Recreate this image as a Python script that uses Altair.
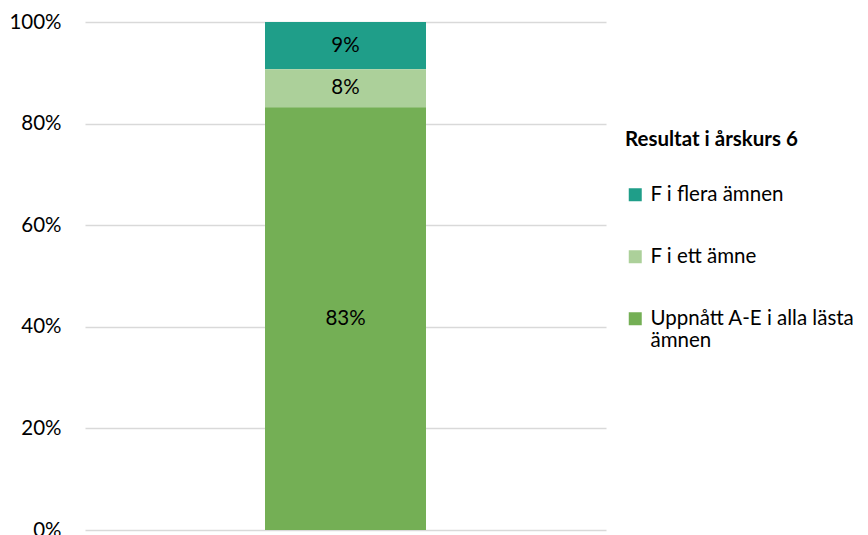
import altair as alt
import pandas as pd

categories = ["F i flera ämnen", "F i ett ämne", "Uppnått A-E i alla lästa ämnen"]
values = [9.3, 7.5, 83.2]
labels = ["9%", "8%", "83%"]
stack_order = [3, 2, 1]
colors = ["#1f9e89", "#acd09a", "#74af55"]

df = pd.DataFrame({
    "grupp": ["Åk 6"] * 3,
    "kategori": categories,
    "andel": values,
    "etikett": labels,
    "ordning": stack_order,
})

FONT = "Lato"

base = alt.Chart(df).encode(
    x=alt.X("grupp:N", axis=None),
)

bars = base.mark_bar(size=161).encode(
    y=alt.Y("andel:Q", stack="zero",
            scale=alt.Scale(domain=[0, 100]),
            axis=alt.Axis(values=[0, 20, 40, 60, 80, 100],
                          labelExpr="datum.value + '%'",
                          title=None, domain=False, ticks=False,
                          labelPadding=24, labelFontSize=20.5,
                          labelFont=FONT, labelColor="#000000",
                          grid=True, gridColor="#d9d9d9", gridWidth=1.4)),
    color=alt.Color("kategori:N",
                    scale=alt.Scale(domain=categories, range=colors),
                    legend=alt.Legend(
                        title="Resultat i årskurs 6",
                        orient="none", legendX=540, legendY=108,
                        titleFont=FONT, titleFontSize=20.5, titleFontWeight="bold",
                        titleColor="#000000", titlePadding=34,
                        labelFont=FONT, labelFontSize=20.5, labelColor="#000000",
                        labelLimit=400, symbolType="square", symbolSize=169,
                        symbolStrokeWidth=0, symbolOpacity=1,
                        rowPadding=41, labelOffset=5,
                        labelExpr="datum.label == 'Uppnått A-E i alla lästa ämnen' ? ['Uppnått A-E i alla lästa', 'ämnen'] : datum.label")),
    order=alt.Order("ordning:Q"),
)

text = base.transform_stack(
    stack="andel", groupby=["grupp"], as_=["y0", "y1"],
    sort=[alt.SortField("ordning", order="ascending")],
).transform_calculate(
    mid="(datum.y0 + datum.y1) / 2"
).mark_text(font=FONT, fontSize=20.5, color="#000000").encode(
    y=alt.Y("mid:Q"),
    text="etikett:N",
)

chart = alt.layer(bars, text).properties(
    width=521, height=508,
    autosize=alt.AutoSizeParams(type="none"),
    padding={"left": 77, "top": 14, "right": 254, "bottom": 10},
).configure_view(stroke=None)

chart.save("out.html", embed_options={"renderer": "svg", "actions": False})
